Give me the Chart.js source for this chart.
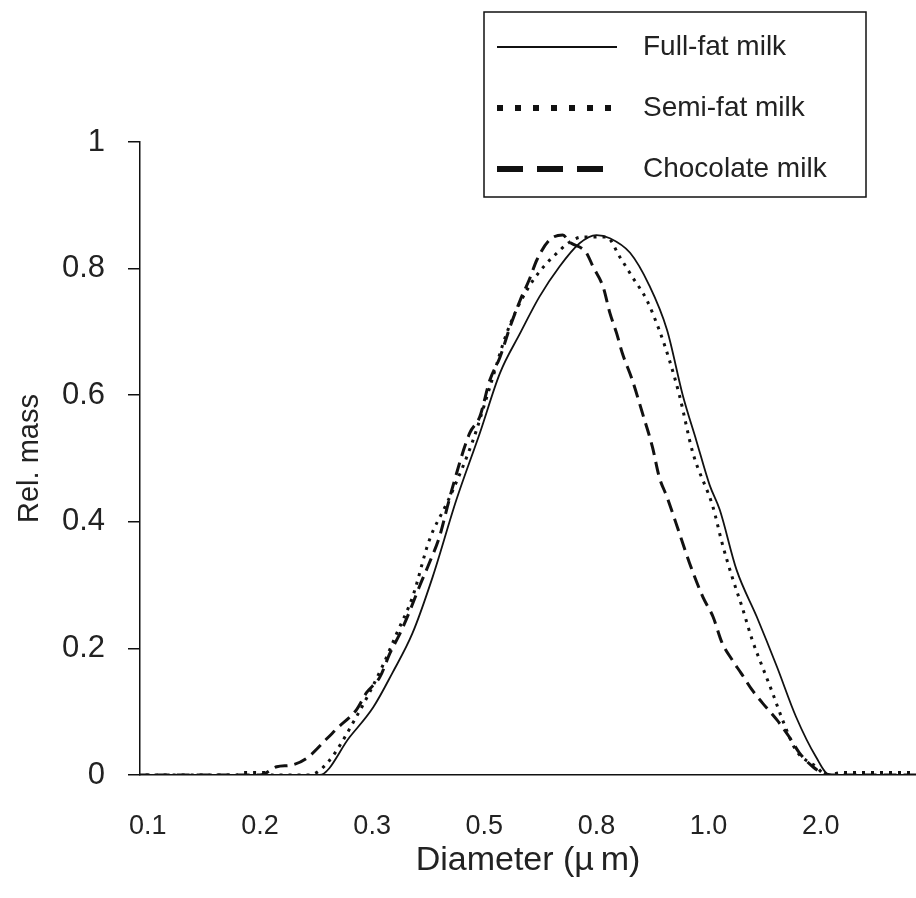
<!DOCTYPE html>
<html>
<head>
<meta charset="utf-8">
<script src="https://cdn.jsdelivr.net/npm/chart.js@4.4.1/dist/chart.umd.min.js"></script>
<style>
  html, body { margin: 0; padding: 0; background: #fff; }
  #wrap { width: 916px; height: 898px; }
</style>
</head>
<body>
<div id="wrap"><canvas id="psd"></canvas></div>
<script>
// diameter tick labels, equally spaced along the axis (position = index)
const diameterLabels = ["0.1", "0.2", "0.3", "0.5", "0.8", "1.0", "2.0"];
const seriesNames = ["Full-fat milk", "Semi-fat milk", "Chocolate milk"];

// [axis position, relative mass]
const fullFat = [
  [-0.1, 0], [1.0, 0], [1.53, 0], [1.80, 0.060], [2.01, 0.107], [2.18, 0.161],
  [2.36, 0.224], [2.54, 0.313], [2.75, 0.434], [2.96, 0.540], [3.14, 0.635],
  [3.32, 0.698], [3.49, 0.755], [3.67, 0.803], [3.85, 0.840], [4.00, 0.853],
  [4.12, 0.848], [4.30, 0.825], [4.47, 0.774], [4.63, 0.703], [4.77, 0.600],
  [4.89, 0.529], [5.01, 0.458], [5.10, 0.419], [5.25, 0.324], [5.43, 0.250],
  [5.61, 0.171], [5.78, 0.092], [5.96, 0.028], [6.08, 0], [7.0, 0]
];
const semiFat = [
  [-0.1, 0], [0.8, 0], [0.85, 0.004], [1.05, 0.004], [1.1, 0], [1.44, 0],
  [1.60, 0.019], [1.86, 0.092], [2.09, 0.171], [2.22, 0.224], [2.36, 0.281],
  [2.51, 0.371], [2.66, 0.427], [2.72, 0.450], [2.90, 0.529], [3.05, 0.613],
  [3.20, 0.698], [3.38, 0.766], [3.61, 0.818], [3.88, 0.850], [4.09, 0.850],
  [4.21, 0.818], [4.32, 0.787], [4.45, 0.750], [4.56, 0.703], [4.65, 0.656],
  [4.74, 0.600], [4.86, 0.509], [5.04, 0.423], [5.12, 0.367], [5.21, 0.313],
  [5.30, 0.265], [5.39, 0.213], [5.48, 0.171], [5.57, 0.130], [5.66, 0.087],
  [5.78, 0.039], [5.96, 0.013], [6.05, 0], [6.2, 0.004], [7.0, 0.004]
];
const chocolate = [
  [-0.1, 0], [1.0, 0], [1.15, 0.013], [1.29, 0.016], [1.42, 0.027], [1.60, 0.058],
  [1.69, 0.074], [1.86, 0.103], [1.95, 0.130], [2.07, 0.155], [2.16, 0.193],
  [2.25, 0.224], [2.34, 0.261], [2.42, 0.297], [2.51, 0.335], [2.60, 0.376],
  [2.67, 0.423], [2.71, 0.450], [2.87, 0.540], [2.96, 0.566], [3.05, 0.624],
  [3.14, 0.660], [3.23, 0.708], [3.32, 0.750], [3.40, 0.782], [3.47, 0.814],
  [3.58, 0.845], [3.70, 0.853], [3.76, 0.842], [3.91, 0.825], [3.97, 0.803],
  [4.06, 0.771], [4.12, 0.730], [4.18, 0.698], [4.23, 0.667], [4.32, 0.624],
  [4.41, 0.572], [4.50, 0.518], [4.56, 0.471], [4.63, 0.439], [4.74, 0.382],
  [4.83, 0.335], [4.95, 0.281], [5.04, 0.250], [5.12, 0.209], [5.21, 0.182],
  [5.29, 0.161], [5.39, 0.134], [5.48, 0.114], [5.61, 0.087], [5.72, 0.060],
  [5.81, 0.035], [5.93, 0.013], [6.02, 0.003], [6.1, 0], [7.0, 0]
];

const ink = "#111";
const textInk = "#222";
const fontFamily = "'Liberation Sans', Arial, sans-serif";

function toPoints(pairs) {
  return pairs.map(p => ({ x: p[0], y: p[1] }));
}

// boxed legend in the upper right, longer strokes than the plot lines
const boxLegend = {
  id: "boxLegend",
  afterDraw(chart) {
    const ctx = chart.ctx;
    const left = 484, top = 12, right = 866, bottom = 197;
    ctx.save();
    ctx.strokeStyle = ink;
    ctx.lineWidth = 1.5;
    ctx.strokeRect(left, top, right - left, bottom - top);
    const rows = [47, 108, 169];
    chart.data.datasets.forEach((ds, i) => {
      const y = rows[i];
      ctx.beginPath();
      const dash = ds.borderDash || [];
      ctx.setLineDash(dash.map(d => d * 2));
      ctx.lineWidth = dash.length ? ds.borderWidth * 2 : ds.borderWidth;
      ctx.lineCap = "butt";
      ctx.moveTo(497, y);
      ctx.lineTo(617, y);
      ctx.stroke();
      ctx.setLineDash([]);
      ctx.fillStyle = textInk;
      ctx.font = "28px " + fontFamily;
      ctx.textAlign = "left";
      ctx.textBaseline = "middle";
      ctx.fillText(ds.label, 643, y);
    });
    ctx.restore();
  }
};

new Chart(document.getElementById("psd"), {
  type: "line",
  data: {
    datasets: [
      {
        label: seriesNames[0],
        data: toPoints(fullFat),
        borderColor: ink,
        borderWidth: 1.8,
        borderDash: [],
      },
      {
        label: seriesNames[1],
        data: toPoints(semiFat),
        borderColor: ink,
        borderWidth: 3,
        borderDash: [3, 6],
      },
      {
        label: seriesNames[2],
        data: toPoints(chocolate),
        borderColor: ink,
        borderWidth: 3,
        borderDash: [13, 7],
      },
    ],
  },
  options: {
    responsive: true,
    maintainAspectRatio: false,
    animation: false,
    layout: { padding: { top: 142, right: 0, bottom: 0, left: 0 } },
    elements: {
      point: { radius: 0 },
      line: { cubicInterpolationMode: "monotone", fill: false },
    },
    plugins: {
      legend: { display: false },
      tooltip: { enabled: false },
    },
    scales: {
      x: {
        type: "linear",
        min: -0.07,
        max: 6.85,
        afterBuildTicks: (axis) => {
          axis.ticks = diameterLabels.map((_, i) => ({ value: i }));
        },
        afterFit: (axis) => { axis.height = 123; },
        ticks: {
          color: textInk,
          font: { family: fontFamily, size: 27 },
          padding: 35,
          maxRotation: 0,
          autoSkip: false,
          callback: (v) => diameterLabels[v],
        },
        grid: { display: false, drawTicks: false },
        border: { display: true, color: ink, width: 1.5 },
        title: {
          display: true,
          text: "Diameter (\u00b5\u2009m)",
          color: textInk,
          font: { family: fontFamily, size: 34 },
          padding: { top: 4, bottom: 17 },
        },
      },
      y: {
        min: 0,
        max: 1,
        afterFit: (axis) => { axis.width = 140; },
        ticks: {
          stepSize: 0.2,
          color: textInk,
          font: { family: fontFamily, size: 31 },
          padding: 23,
          callback: (v) => (v === 0 || v === 1 ? String(v) : v.toFixed(1)),
        },
        grid: {
          drawOnChartArea: false,
          drawTicks: true,
          tickLength: 12,
          color: ink,
          lineWidth: 1.5,
        },
        border: { display: true, color: ink, width: 1.5 },
        title: {
          display: true,
          text: "Rel. mass",
          color: textInk,
          font: { family: fontFamily, size: 29 },
          padding: { top: 13, bottom: 0 },
        },
      },
    },
  },
  plugins: [boxLegend],
});
</script>
</body>
</html>
